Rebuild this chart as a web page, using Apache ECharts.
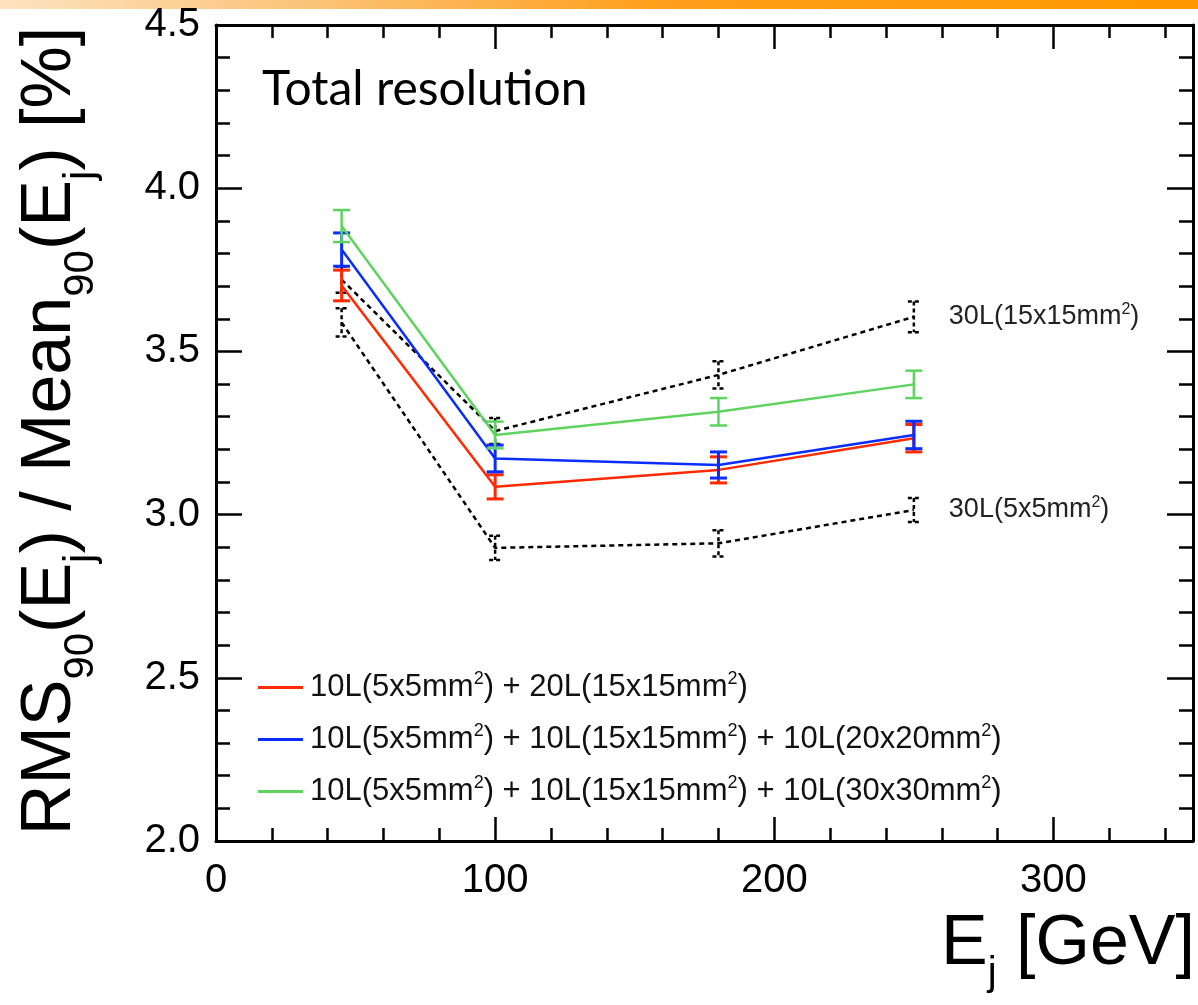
<!DOCTYPE html>
<html>
<head>
<meta charset="utf-8">
<script src="https://cdn.jsdelivr.net/npm/echarts@6/dist/echarts.min.js"></script>
<style>html,body{margin:0;padding:0;background:#fff}#c{width:1198px;height:1005px}</style>
</head>
<body>
<div id="c"></div>
<script>
// ---- data ----
const energies = [45, 100, 180, 250];
const redName = '10L(5x5mm²) + 20L(15x15mm²)';
const blueName = '10L(5x5mm²) + 10L(15x15mm²) + 10L(20x20mm²)';
const greenName = '10L(5x5mm²) + 10L(15x15mm²) + 10L(30x30mm²)';
const black15Name = '30L(15x15mm²)';
const black5Name = '30L(5x5mm²)';
const redVals = [3.702, 3.085, 3.137, 3.234];
const redErr = [0.047, 0.037, 0.040, 0.042];
const blueVals = [3.812, 3.172, 3.152, 3.244];
const blueErr = [0.051, 0.041, 0.040, 0.042];
const greenVals = [3.884, 3.244, 3.315, 3.399];
const greenErr = [0.049, 0.041, 0.042, 0.042];
const black15Vals = [3.72, 3.256, 3.428, 3.606];
const black15Err = [0.040, 0.040, 0.042, 0.047];
const black5Vals = [3.589, 2.898, 2.912, 3.014];
const black5Err = [0.043, 0.037, 0.040, 0.037];
const xTicks = [0, 100, 200, 300];
const yTicks = ['2.0', '2.5', '3.0', '3.5', '4.0', '4.5'];

const FONT = 'Liberation Sans, Arial, sans-serif';
const RED = '#ff2a00', BLUE = '#0a2dff', GREEN = '#5fd35f', BLACK = '#000';

const chart = echarts.init(document.getElementById('c'), null, {renderer: 'canvas'});

function pts(vals) { return energies.map((x, i) => [x, vals[i]]); }
function errPts(vals, errs) { return energies.map((x, i) => [x, vals[i], errs[i]]); }

function errRender(color, dashed, capW, lw) {
  return function (params, api) {
    const x = api.value(0), y = api.value(1), e = api.value(2);
    const t = api.coord([x, y + e]), b = api.coord([x, y - e]);
    const style = {stroke: color, lineWidth: lw, lineDash: dashed ? [4, 3] : null, fill: null};
    return {type: 'group', children: [
      {type: 'line', shape: {x1: t[0], y1: t[1], x2: b[0], y2: b[1]}, style: style},
      {type: 'line', shape: {x1: t[0] - capW / 2, y1: t[1], x2: t[0] + capW / 2, y2: t[1]}, style: style},
      {type: 'line', shape: {x1: b[0] - capW / 2, y1: b[1], x2: b[0] + capW / 2, y2: b[1]}, style: style}
    ]};
  };
}

function lineSeries(name, vals, color, dashed, z, endText) {
  const s = {
    type: 'line', name: name, data: pts(vals), xAxisIndex: 0, yAxisIndex: 0,
    symbol: 'none', showSymbol: false, z: z, silent: true, animation: false,
    lineStyle: {color: color, width: 2.5, type: dashed ? [5, 4] : 'solid'},
    itemStyle: {color: color}
  };
  if (endText) {
    s.endLabel = {
      show: true, distance: 35, color: '#000', fontFamily: FONT,
      formatter: () => '{a|' + endText.replace(/²/g, '}{s|2}{a|') + '}',
      rich: {
        a: {fontSize: 27, fontFamily: FONT, color: '#222', lineHeight: 30},
        s: {fontSize: 16, fontFamily: FONT, color: '#222', verticalAlign: 'top', lineHeight: 30, padding: [0, 0, 14, 0]}
      }
    };
  }
  return s;
}
function errSeries(name, vals, errs, color, dashed, capW, lw, z) {
  return {type: 'custom', name: name, data: errPts(vals, errs), xAxisIndex: 0, yAxisIndex: 0,
    encode: {x: 0, y: 1}, renderItem: errRender(color, dashed, capW, lw), z: z, silent: true, animation: false};
}

const axisLineStyle = {color: '#000', width: 3};
const tickStyle = {color: '#000', width: 2.5};

function xAxisDef(pos, interval, len, labels, line) {
  return {
    type: 'value', min: 0, max: 350, interval: interval, position: pos,
    axisLine: {show: line, onZero: false, lineStyle: axisLineStyle},
    axisTick: {show: true, inside: true, length: len, lineStyle: tickStyle},
    splitLine: {show: false},
    axisLabel: {show: labels, fontSize: 40, fontFamily: FONT, color: '#000', margin: 20,
      formatter: v => (xTicks.indexOf(v) >= 0 ? String(v) : '')}
  };
}
function yAxisDef(pos, interval, len, labels, line) {
  return {
    type: 'value', min: 2.0, max: 4.5, interval: interval, position: pos,
    axisLine: {show: line, onZero: false, lineStyle: axisLineStyle},
    axisTick: {show: true, inside: true, length: len, lineStyle: tickStyle},
    splitLine: {show: false},
    axisLabel: {show: labels, fontSize: 40, fontFamily: FONT, color: '#000', margin: 16,
      formatter: v => yTicks.find(t => Math.abs(parseFloat(t) - v) < 1e-6) || ''}
  };
}

const option = {
  animation: false,
  backgroundColor: '#fff',
  grid: {left: 216, top: 25, width: 977, height: 816, containLabel: false},
  xAxis: [
    xAxisDef('bottom', 100, 24, true, true),
    xAxisDef('bottom', 20, 13, false, false),
    xAxisDef('top', 100, 24, false, true),
    xAxisDef('top', 20, 13, false, false)
  ],
  yAxis: [
    yAxisDef('left', 0.5, 26, true, true),
    yAxisDef('left', 0.1, 14, false, false),
    yAxisDef('right', 0.5, 26, false, true),
    yAxisDef('right', 0.1, 14, false, false)
  ],
  legend: {
    show: true, orient: 'vertical', left: 253, top: 665,
    data: [redName, blueName, greenName],
    icon: 'rect', itemWidth: 45, itemHeight: 3, itemGap: 18,
    selectedMode: false,
    formatter: name => '{a|' + name.replace(/²/g, '}{s|2}{a|') + '}',
    textStyle: {
      padding: [0, 0, 0, 2],
      rich: {
        a: {fontSize: 31, fontFamily: FONT, color: '#111', lineHeight: 35},
        s: {fontSize: 18, fontFamily: FONT, color: '#111', verticalAlign: 'top', lineHeight: 35, padding: [0, 0, 16, 0]}
      }
    }
  },
  graphic: [
    {type: 'rect', left: 0, top: 0, shape: {width: 1198, height: 9},
     style: {fill: new echarts.graphic.LinearGradient(0, 0, 1, 0, [
       {offset: 0, color: '#fde3bf'}, {offset: 0.25, color: '#fbc47a'}, {offset: 0.55, color: '#ff9f1a'}, {offset: 1, color: '#ff9800'}])}},
    {type: 'text', left: 262, top: 66,
     style: {text: 'Total resolution', fontSize: 48, fontFamily: 'Lato, sans-serif', fill: '#000'}},
    {type: 'text', x: 56, y: 431, rotation: Math.PI / 2,
     style: {
       text: '{a|RMS}{s|90}{a|(E}{s|j}{a|) / Mean}{s|90}{a|(E}{s|j}{a|) [%]}',
       align: 'center', verticalAlign: 'middle',
       rich: {
         a: {fontSize: 70, fontFamily: FONT, fill: '#000', lineHeight: 80, verticalAlign: 'top'},
         s: {fontSize: 42, fontFamily: FONT, fill: '#000', lineHeight: 42, verticalAlign: 'top', padding: [44, 0, 0, 0]}
       }
     }},
    {type: 'text', x: 1195, y: 950,
     style: {
       text: '{a|E}{s|j}{a| [GeV]}', align: 'right', verticalAlign: 'middle',
       rich: {
         a: {fontSize: 70, fontFamily: FONT, fill: '#000', lineHeight: 80, verticalAlign: 'top'},
         s: {fontSize: 40, fontFamily: FONT, fill: '#000', lineHeight: 40, verticalAlign: 'top', padding: [44, 0, 0, 0]}
       }
     }}
  ],
  series: [
    lineSeries(black5Name, black5Vals, BLACK, true, 2, black5Name),
    errSeries('err5', black5Vals, black5Err, BLACK, true, 12, 2.5, 2),
    lineSeries(black15Name, black15Vals, BLACK, true, 2, black15Name),
    errSeries('err15', black15Vals, black15Err, BLACK, true, 12, 2.5, 2),
    lineSeries(redName, redVals, RED, false, 3),
    errSeries('errRed', redVals, redErr, RED, false, 17, 3, 3),
    lineSeries(blueName, blueVals, BLUE, false, 4),
    errSeries('errBlue', blueVals, blueErr, BLUE, false, 17, 3, 4),
    lineSeries(greenName, greenVals, GREEN, false, 5),
    errSeries('errGreen', greenVals, greenErr, GREEN, false, 17, 2.5, 5)
  ]
};
chart.setOption(option);
</script>
</body>
</html>
